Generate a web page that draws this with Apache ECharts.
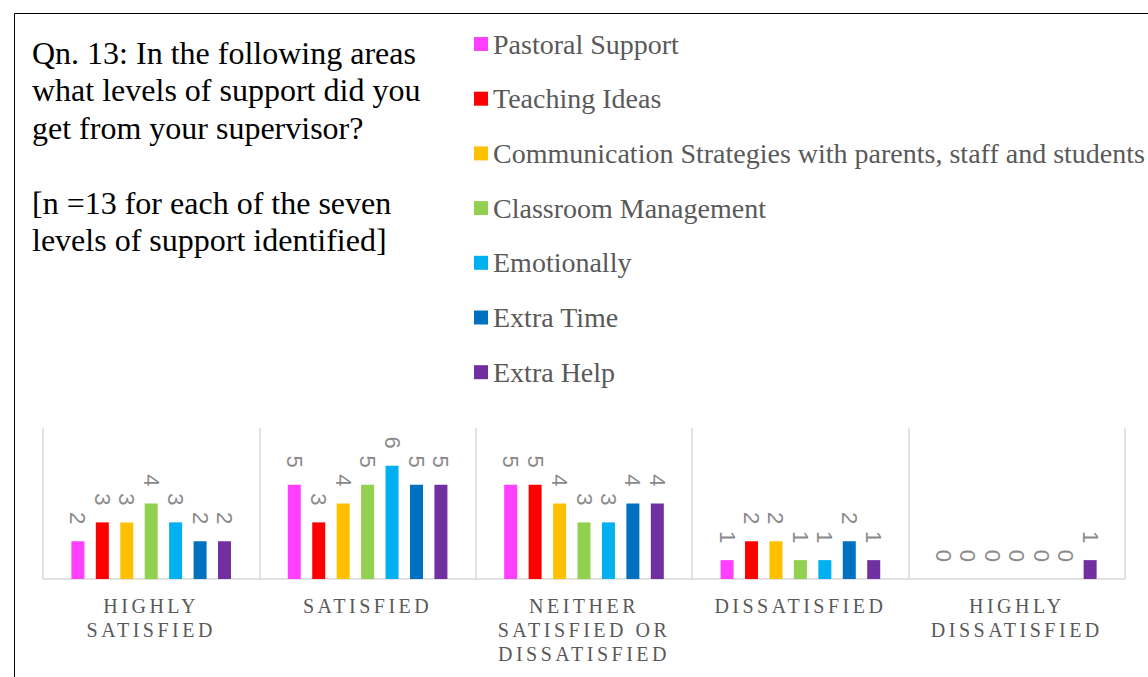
<!DOCTYPE html>
<html><head><meta charset="utf-8">
<script src="https://cdn.jsdelivr.net/npm/echarts@6/dist/echarts.min.js"></script>
<style>
html,body{margin:0;padding:0;background:#fff;}
#c{width:1148px;height:677px;}
#c text[style*="20px"]{letter-spacing:3.5px;}
</style></head><body><div id="c"></div>
<script>
const categories = ['HIGHLY\nSATISFIED', 'SATISFIED', 'NEITHER\nSATISFIED OR\nDISSATISFIED', 'DISSATISFIED', 'HIGHLY\nDISSATISFIED'];
const seriesNames = ['Pastoral Support', 'Teaching Ideas', 'Communication Strategies with parents, staff and students', 'Classroom Management', 'Emotionally', 'Extra Time', 'Extra Help'];
const pastoralSupport = [2, 5, 5, 1, 0];
const teachingIdeas = [3, 3, 5, 2, 0];
const communicationStrategies = [3, 4, 4, 2, 0];
const classroomManagement = [4, 5, 3, 1, 0];
const emotionally = [3, 6, 3, 1, 0];
const extraTime = [2, 5, 4, 2, 0];
const extraHelp = [2, 5, 4, 1, 1];
const seriesValues = [pastoralSupport, teachingIdeas, communicationStrategies, classroomManagement, emotionally, extraTime, extraHelp];
const colors = ['#FF40FF', '#FF0000', '#FFC000', '#92D050', '#00B0F0', '#0070C0', '#7030A0'];
const titleText = 'Qn. 13: In the following areas\nwhat levels of support did you\nget from your supervisor?\n\n[n =13 for each of the seven\nlevels of support identified]';

const chart = echarts.init(document.getElementById('c'), null, {renderer: 'svg'});
chart.setOption({
  animation: false,
  color: colors,
  title: {
    text: titleText, left: 32, top: 34, padding: 0,
    textStyle: {fontFamily: 'Liberation Serif', fontSize: 32, lineHeight: 37.5, color: '#000', fontWeight: 'normal'}
  },
  legend: {
    orient: 'vertical', left: 474, top: 30, padding: 0, align: 'left',
    icon: 'rect', itemWidth: 14, itemHeight: 14, itemGap: 26.7,
    data: seriesNames,
    textStyle: {fontFamily: 'Liberation Serif', fontSize: 28, lineHeight: 28, color: '#595959'}
  },
  graphic: [{
    type: 'rect', shape: {x: 14.5, y: 13.5, width: 1300, height: 800},
    style: {fill: 'none', stroke: '#000', lineWidth: 1}, silent: true, z: -1
  }],
  grid: {left: 43, right: 23, top: 428, bottom: 98, containLabel: false},
  xAxis: {
    type: 'category', data: categories,
    axisLine: {lineStyle: {color: '#d9d9d9', width: 1.5}},
    axisTick: {show: false},
    splitLine: {show: true, lineStyle: {color: '#d9d9d9', width: 1.5}},
    axisLabel: {fontFamily: 'Liberation Serif', fontSize: 20, lineHeight: 24, color: '#595959', margin: 15, interval: 0}
  },
  yAxis: {type: 'value', min: 0, max: 8, show: false, splitLine: {show: false}},
  series: seriesNames.map((n, i) => ({
    name: n, type: 'bar', data: seriesValues[i], barWidth: 13, barGap: '88%',
    label: {show: true, position: 'top', rotate: -90, align: 'right', verticalAlign: 'middle', distance: 17,
      fontFamily: 'Liberation Sans Narrow, Liberation Sans', fontSize: 22, color: '#8a8a8a'}
  }))
});
</script></body></html>
